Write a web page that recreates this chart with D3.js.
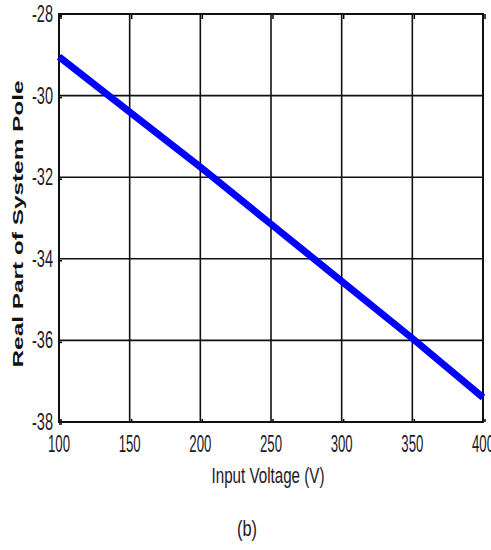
<!DOCTYPE html>
<html>
<head>
<meta charset="utf-8">
<script src="https://cdn.jsdelivr.net/npm/d3@7"></script>
<style>
    body { margin: 0; background: #fff; }
    svg { display: block; }
    text { font-family: "Liberation Sans", Arial, sans-serif; }
</style>
</head>
<body>
<div class="canvas"></div>
<script>
// input voltage (V) and real part of system pole
const voltage = [100, 150, 200, 250, 300, 350, 400];
const realPart = [-29.05, -30.4, -31.75, -33.15, -34.55, -35.95, -37.4];
const xTicks = [100, 150, 200, 250, 300, 350, 400];
const yTicks = [-28, -30, -32, -34, -36, -38];

const width = 491, height = 550;
const plot = { left: 59, top: 14, right: 483, bottom: 422 };

const svg = d3.select(".canvas")
    .append("svg")
    .attr("width", width)
    .attr("height", height);

const x = d3.scaleLinear().domain([100, 400]).range([plot.left, plot.right]);
const y = d3.scaleLinear().domain([-38, -28]).range([plot.bottom, plot.top]);

// grid
const grid = svg.append("g").attr("class", "grid");
grid.selectAll(".gx")
    .data(xTicks)
    .enter()
    .append("line")
    .attr("x1", d => x(d)).attr("x2", d => x(d))
    .attr("y1", plot.top).attr("y2", plot.bottom)
    .attr("stroke", "#111")
    .attr("stroke-width", 1.6);
grid.selectAll(".gy")
    .data(yTicks)
    .enter()
    .append("line")
    .attr("x1", plot.left).attr("x2", plot.right)
    .attr("y1", d => y(d)).attr("y2", d => y(d))
    .attr("stroke", "#111")
    .attr("stroke-width", 1.6);

// small inner tick marks
const tickLen = 3;
svg.selectAll(".tb")
    .data(xTicks)
    .enter()
    .append("line")
    .attr("x1", d => x(d) + 2).attr("x2", d => x(d) + 2)
    .attr("y1", plot.bottom).attr("y2", plot.bottom - tickLen)
    .attr("stroke", "#000").attr("stroke-width", 1.5);
svg.selectAll(".tt")
    .data(xTicks)
    .enter()
    .append("line")
    .attr("x1", d => x(d) + 2).attr("x2", d => x(d) + 2)
    .attr("y1", plot.top).attr("y2", plot.top + tickLen + 2)
    .attr("stroke", "#000").attr("stroke-width", 1.5);
svg.selectAll(".tl")
    .data(yTicks)
    .enter()
    .append("line")
    .attr("x1", plot.left).attr("x2", plot.left + tickLen)
    .attr("y1", d => y(d) + 2).attr("y2", d => y(d) + 2)
    .attr("stroke", "#000").attr("stroke-width", 1.5);

// frame
svg.append("rect")
    .attr("x", plot.left)
    .attr("y", plot.top)
    .attr("width", plot.right - plot.left)
    .attr("height", plot.bottom - plot.top)
    .attr("fill", "none")
    .attr("stroke", "#111")
    .attr("stroke-width", 2);

// data line
const line = d3.line()
    .x((d, i) => x(voltage[i]))
    .y(d => y(d));

svg.append("path")
    .datum(realPart)
    .attr("d", line)
    .attr("fill", "none")
    .attr("stroke", "#0000ff")
    .attr("stroke-width", 7)
    .attr("stroke-linecap", "butt");

// tick labels (tall narrow look)
svg.selectAll(".xl")
    .data(xTicks)
    .enter()
    .append("text")
    .attr("x", d => x(d))
    .attr("y", 452)
    .attr("text-anchor", "middle")
    .attr("font-size", "24px")
    .attr("textLength", 22)
    .attr("lengthAdjust", "spacingAndGlyphs")
    .attr("fill", "#1a1a2a")
    .text(d => d);

svg.selectAll(".yl")
    .data(yTicks)
    .enter()
    .append("text")
    .attr("x", 53)
    .attr("y", d => y(d) + 8)
    .attr("text-anchor", "end")
    .attr("font-size", "24px")
    .attr("textLength", 21)
    .attr("lengthAdjust", "spacingAndGlyphs")
    .attr("fill", "#1a1a2a")
    .text(d => d);

// axis titles
svg.append("text")
    .attr("x", 268)
    .attr("y", 483)
    .attr("text-anchor", "middle")
    .attr("font-size", "22px")
    .attr("textLength", 113)
    .attr("lengthAdjust", "spacingAndGlyphs")
    .attr("fill", "#1a1a2a")
    .text("Input Voltage (V)");

svg.append("text")
    .attr("transform", "translate(23," + 224 + ") rotate(-90)")
    .attr("text-anchor", "middle")
    .attr("font-size", "14px")
    .attr("font-weight", "bold")
    .attr("textLength", 287)
    .attr("lengthAdjust", "spacingAndGlyphs")
    .attr("fill", "#111")
    .text("Real Part of System Pole");

svg.append("text")
    .attr("x", 247)
    .attr("y", 536)
    .attr("text-anchor", "middle")
    .attr("font-size", "22px")
    .attr("textLength", 20)
    .attr("lengthAdjust", "spacingAndGlyphs")
    .attr("fill", "#1a1a2a")
    .text("(b)");
</script>
</body>
</html>
